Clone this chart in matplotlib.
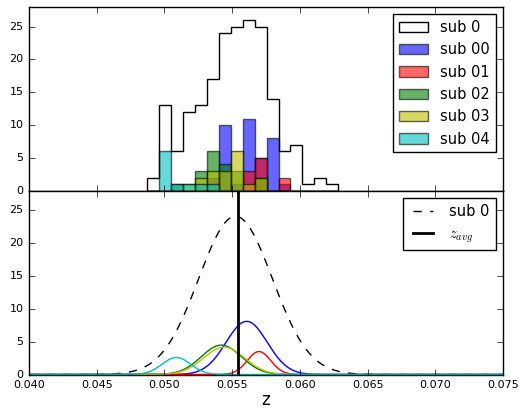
import numpy as np
import matplotlib
matplotlib.use("Agg")
import matplotlib.pyplot as plt

plt.style.use("classic")

# ---- data ----
z_lo, z_hi, n_bins = 0.04874, 0.06283, 16
counts_sub0 = [2, 13, 6, 12, 13, 17, 24, 25, 26, 25, 14, 6, 7, 1, 2, 1]
counts_sub00 = [0, 0, 0, 0, 0, 2, 10, 1, 11, 5, 8, 1, 0, 0, 0, 0]
counts_sub01 = [0, 0, 0, 0, 0, 0, 0, 0, 3, 5, 0, 2, 0, 0, 0, 0]
counts_sub02 = [0, 0, 1, 0, 3, 6, 4, 3, 0, 2, 0, 0, 0, 0, 0, 0]
counts_sub03 = [0, 0, 0, 1, 2, 3, 3, 6, 1, 2, 0, 0, 0, 0, 0, 0]
counts_sub04 = [0, 6, 1, 1, 1, 1, 0, 0, 0, 0, 0, 0, 0, 0, 0, 0]
sub_labels = ["sub 00", "sub 01", "sub 02", "sub 03", "sub 04"]
sub_colors = ["b", "r", "g", "y", "c"]

# Gaussian curve parameters (mu, sigma, peak)
gauss_sub0 = (0.05525, 0.00272, 24.1)
gauss_subs = [
    (0.05607, 0.00152, 8.1),
    (0.05698, 0.00087, 3.5),
    (0.05420, 0.00148, 4.48),
    (0.05440, 0.00151, 4.17),
    (0.05088, 0.00105, 2.6),
]
z_avg = 0.05541
xticks = [0.040, 0.045, 0.050, 0.055, 0.060, 0.065, 0.070, 0.075]
yticks = [0, 5, 10, 15, 20, 25]

# ---- figure ----
plt.rcParams["mathtext.fontset"] = "cm"
fig = plt.figure(figsize=(5.22, 4.11), dpi=100)
fig.patch.set_facecolor("white")
fig.subplots_adjust(left=29/522, right=503/522, bottom=1-374.5/411, top=1-7/411, hspace=0)
ax1 = fig.add_subplot(211)
ax2 = fig.add_subplot(212, sharex=ax1)

edges = np.linspace(z_lo, z_hi, n_bins + 1)
centers = 0.5 * (edges[:-1] + edges[1:])

ax1.hist(centers, bins=edges, weights=counts_sub0, histtype="step", color="k",
         lw=1, label="sub 0")
for cnt, lab, col in zip([counts_sub00, counts_sub01, counts_sub02, counts_sub03, counts_sub04],
                         sub_labels, sub_colors):
    ax1.hist(centers, bins=edges, weights=cnt, color=col, alpha=0.6,
             edgecolor="k", lw=1, label=lab)

ax1.set_ylim(0, 28)
ax1.set_yticks(yticks)
ax1.legend(loc="upper right", fontsize=10.5, borderaxespad=0.5)
plt.setp(ax1.get_xticklabels(), visible=False)

x = np.linspace(0.040, 0.075, 1000)
mu, sg, pk = gauss_sub0
ax2.plot(x, pk * np.exp(-0.5 * ((x - mu) / sg) ** 2), "k--", lw=1, label="sub 0")
for (mu, sg, pk), col in zip(gauss_subs, sub_colors):
    ax2.plot(x, pk * np.exp(-0.5 * ((x - mu) / sg) ** 2), color=col, lw=1)
ax2.axvline(z_avg, color="k", lw=2, label=r"$z_{avg}$")
ax2.set_ylim(0, 28)
ax2.set_yticks(yticks)
ax2.set_xlim(0.040, 0.075)
ax2.set_xticks(xticks)
ax2.set_xticklabels(["%.3f" % t for t in xticks])
ax2.set_xlabel("z", fontsize=12, labelpad=1)
ax2.legend(loc="upper right", fontsize=10.5, borderaxespad=0.5)

for ax in (ax1, ax2):
    ax.tick_params(labelsize=8)

fig.savefig("out.png", dpi=100)
